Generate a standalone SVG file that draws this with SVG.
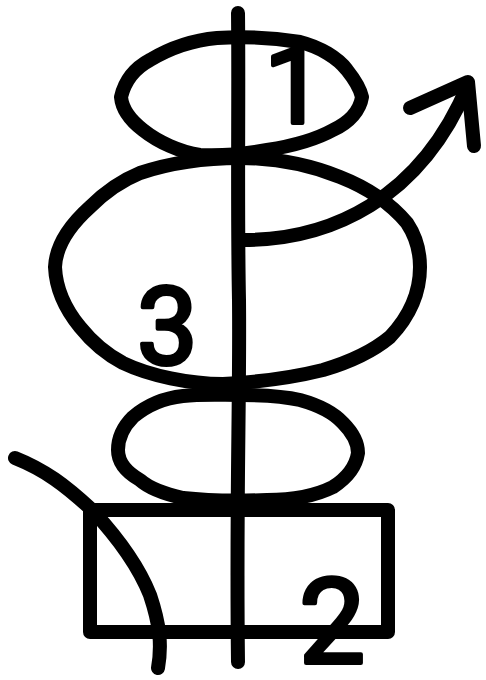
<svg xmlns="http://www.w3.org/2000/svg" width="486" height="680" viewBox="0 0 486 680">
<style>
.s{fill:none;stroke:#000;stroke-width:14;stroke-linecap:round;stroke-linejoin:round}
.t{font-family:Roboto,"Liberation Sans",Arial,sans-serif;fill:#000;stroke:#000;stroke-width:4;stroke-linejoin:round}
</style>
<rect width="486" height="680" fill="#fff"/>
<g id="top-ellipse">
<path class="s" d="M121 97 C125 80 135 68 150 60 C170 48 195 40 217 38 C245 36 275 38 300 42 C320 47 338 58 347 70 C355 80 360 88 362 97 C360 110 350 122 333 130 C315 140 292 146 267 150 C245 154 222 156 200 155 C180 152 158 142 143 130 C130 120 122 108 121 97 Z"/>
</g>
<g id="middle-ellipse">
<path class="s" d="M240 158 C205 158 170 163 140 173 C118 182 102 195 90 207 C70 225 56 245 55 267 C56 290 66 310 80 327 C92 342 106 354 123 363 C150 376 190 384 223 384 C260 382 295 377 323 370 C350 362 372 352 390 337 C408 318 420 295 420 267 C420 250 415 235 407 223 C392 205 368 188 340 177 C310 165 275 158 240 158 Z"/>
</g>
<g id="bottom-ellipse">
<path class="s" d="M118 450 C118 438 124 426 133 417 C146 406 164 398 183 396 C202 394 220 395 240 395 C262 395 283 396 300 400 C318 405 333 412 343 423 C352 432 358 442 358 453 C356 466 347 478 333 487 C315 496 292 500 267 500 C240 501 210 501 183 498 C165 494 150 489 140 480 C126 472 118 462 118 450 Z"/>
</g>
<g id="box">
<rect class="s" x="90" y="510" width="298" height="122"/>
</g>
<g id="connectors">
<path class="s" d="M238 13 C239 100 237 200 239 300 C240 400 236 500 238 662"/>
<path class="s" d="M243 240 C330 240 420 200 468 85"/>
<path class="s" d="M410 108 L468 82 L474 146"/>
<path class="s" d="M15 458 C45 470 65 485 92 510 C120 540 140 570 150 595 C160 625 162 645 158 668"/>
</g>
<g id="labels">
<text class="t" x="264" y="123" font-size="108">1</text>
<text class="t" x="137" y="364" font-size="108">3</text>
<text class="t" x="299" y="663" font-size="118">2</text>
</g>
</svg>
